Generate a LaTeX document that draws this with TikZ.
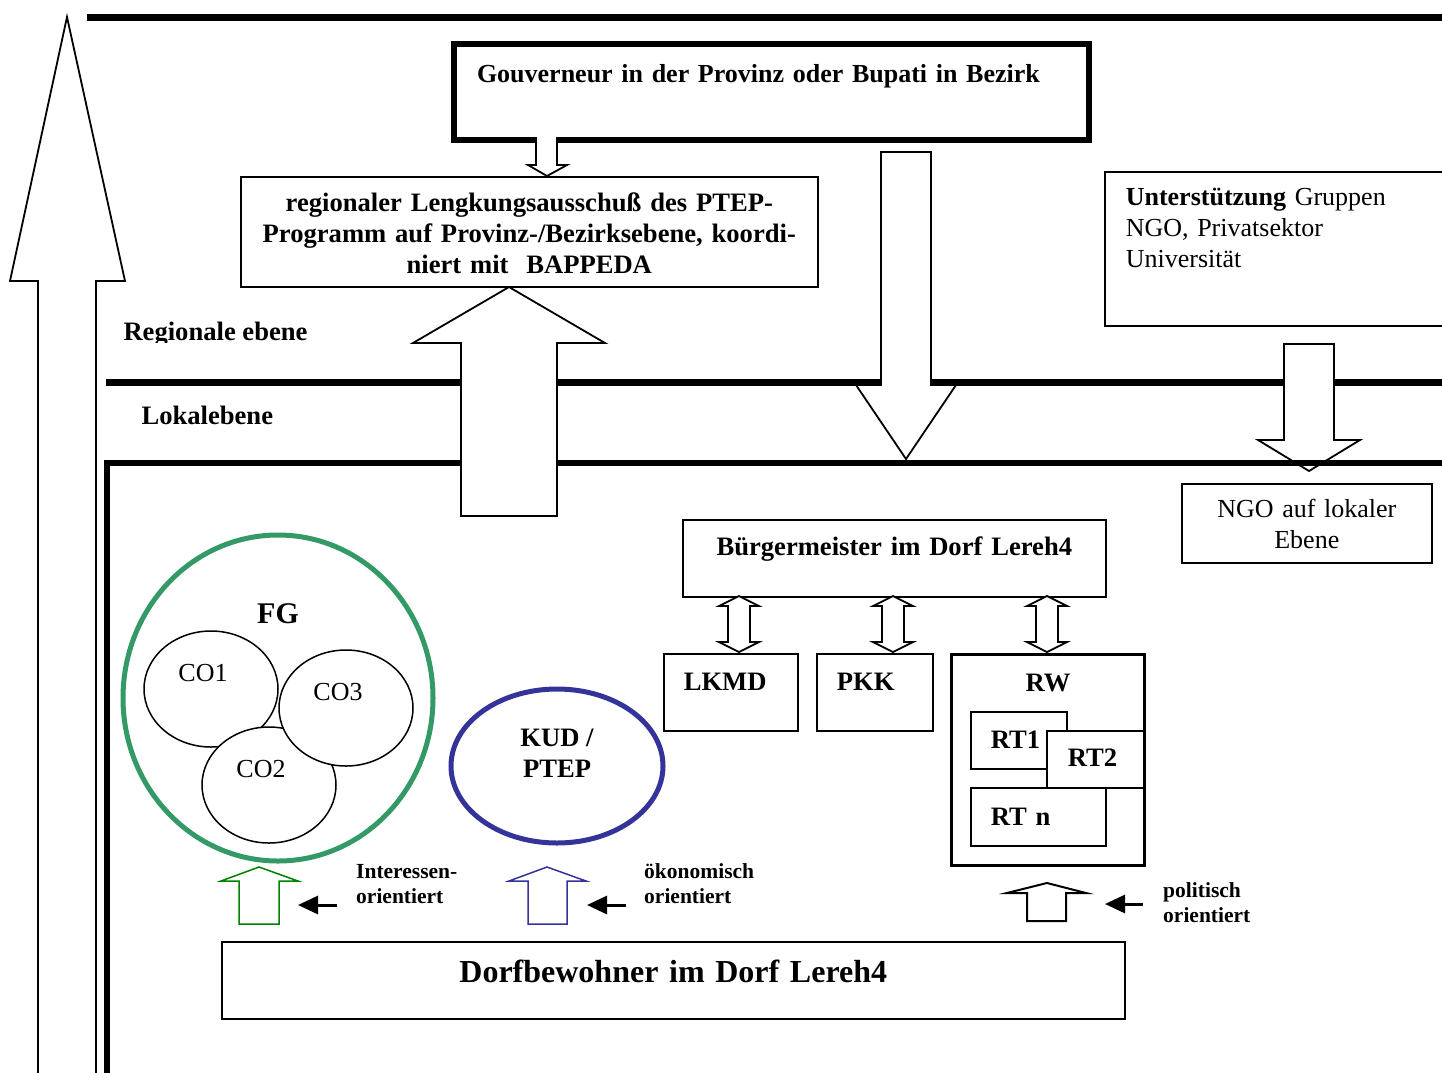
\documentclass[tikz,border=0pt]{standalone}
\usepackage{fontspec}
\setmainfont{Liberation Serif}
\usepackage{xcolor}
\usetikzlibrary{arrows.meta}
\usetikzlibrary{positioning,shapes.geometric}
\definecolor{fggreen}{RGB}{51,153,102}
\definecolor{kudblue}{RGB}{51,51,153}
\definecolor{arrgreen}{RGB}{0,128,0}
\tikzset{
    box/.style={
        draw,
        fill=white,
        line width=1.6pt,
        inner sep=0pt,
        anchor=north west
    },
    boldtext/.style={
        font=\fontsize{26.6pt}{31pt}\selectfont\bfseries
    },
    plaintext/.style={
        font=\fontsize{26pt}{31pt}\selectfont
    },
    smalltext/.style={
        font=\fontsize{21.5pt}{25pt}\selectfont\bfseries
    }
}

\begin{document}
\begin{tikzpicture}[x=1pt,y=-1pt]
  \tikzset{
    blockarrow/.style={
      draw,
      fill=white,
      line width=1.8pt,
      line join=miter
    },
    coarrow/.style={
      fill=white,
      line width=1.5pt
    },
    divider/.style={
      line width=7pt
    },
    pointer/.style={
      -{Triangle[length=20pt, width=18pt]},
      line width=3pt
    },
    cocircle/.style={
      ellipse,
      draw,
      fill=white,
      line width=1.5pt,
      minimum width=134pt,
      minimum height=116pt,
      inner sep=0pt,
      text height=2pt,
      text depth=18pt,
      plaintext
    },
    orient/.style={
      smalltext,
      anchor=north west,
      inner sep=0pt,
      align=left,
      text height=41pt
    }
  }
  \useasboundingbox (0,0) rectangle (1442,1072);

  % Levels
  \draw[blockarrow] (38,1080) -- (38,281) -- (10,281) -- (67,17) -- (125,281) -- (96,281) -- (96,1080);
  \draw[divider] (87,17) -- (1450,17);
  \draw[divider] (106,382) -- (1450,382);
  \begin{scope}
    \clip (110,290) rectangle (330,342);
    \node[boldtext, anchor=base west] (regional) at (120,340) {Regionale ebene};
  \end{scope}
  \node[boldtext, anchor=base west] (lokal) at (138,424) {Lokalebene};

  % Regional level
  \node[box, font=\fontsize{26pt}{31pt}\selectfont\bfseries, line width=6pt, text width=589pt, inner xsep=23pt, align=left,
        text height=38pt, text depth=58pt] (gouv) at (451,41)
        {Gouverneur in der Provinz oder Bupati in Bezirk};
  \node[box, boldtext, text width=577pt, align=center, text height=35pt, text depth=75pt] (regio) at (240,176)
        {regionaler Lengkungsausschuß des PTEP-\\Programm auf Provinz-/Bezirksebene, koordi-\\niert mit\ \ BAPPEDA};
  \node[box, plaintext, text width=318pt, inner xsep=21pt, align=left, text height=34pt, text depth=120pt] (support) at (1104,171)
        {\textbf{Unterstützung} Gruppen\\NGO, Privatsektor\\Universität};
  \draw[blockarrow] (536,137) -- (536,165) -- (528,165) -- (547,176) -- (567,165) -- (557,165) -- (557,137);
  \draw[blockarrow] (1284,344) -- (1284,440) -- (1258,440) -- (1309,471) -- (1360,440) -- (1334,440) -- (1334,344) -- cycle;

  % Local level
  \draw[line width=6pt, line join=miter] (107,1080) -- (107,463) -- (1450,463);
  \draw[blockarrow] (461,516) -- (461,343) -- (413,343) -- (509,287) -- (605,343) -- (557,343) -- (557,516) -- cycle;
  \draw[blockarrow] (881,152) -- (881,385) -- (856,385) -- (906,459) -- (956,385) -- (931,385) -- (931,152) -- cycle;
  \node[box, plaintext, text width=250pt, align=center, text height=34pt, text depth=45pt] (ngo) at (1181,483)
        {NGO auf lokaler\\Ebene};

  % Village
  \node[box, boldtext, text width=423pt, align=center, text height=36pt, text depth=41pt] (buerg) at (682,519)
        {Bürgermeister im Dorf Lereh4};
  \node[box, boldtext, text width=94pt, inner xsep=20pt, align=left, text height=37pt, text depth=40pt] (lkmd) at (663,653) {LKMD};
  \node[box, boldtext, text width=76pt, inner xsep=20pt, align=left, text height=37pt, text depth=40pt] (pkk) at (816,653) {PKK};
  \node[box, boldtext, line width=3pt, text width=193pt, align=center, text height=37pt, text depth=174pt] (rw) at (950,653) {RW};
  \node[box, boldtext, text width=56pt, inner xsep=20pt, align=left, text height=37pt, text depth=20pt] (rt1) at (970,711) {RT1};
  \node[box, boldtext, text width=55pt, inner xsep=21pt, align=left, text height=36pt, text depth=21pt] (rt2) at (1046,730) {RT2};
  \node[box, boldtext, text width=95pt, inner xsep=20pt, align=left, text height=38pt, text depth=20pt] (rtn) at (970,787) {RT n};
  \foreach \cx in {739,893,1047} {
    \draw[blockarrow] (\cx,596) -- (\cx+20,606) -- (\cx+11,606) -- (\cx+11,642) -- (\cx+20,642) -- (\cx,652)
      -- (\cx-20,642) -- (\cx-11,642) -- (\cx-11,606) -- (\cx-20,606) -- cycle;
  }

  % Groups
  \node[ellipse, draw=fggreen, line width=5pt, minimum width=310pt, minimum height=326pt, inner sep=0pt] (fg) at (278,698) {};
  \node[font=\fontsize{30pt}{36pt}\selectfont\bfseries, anchor=base] (fglabel) at (278,623) {FG};
  \node[cocircle] (co1) at (211,689) {CO1\hspace*{16pt}};
  \node[cocircle] (co2) at (269,785) {CO2\hspace*{16pt}};
  \node[cocircle] (co3) at (346,708) {CO3\hspace*{16pt}};
  \node[ellipse, draw=kudblue, line width=5pt, minimum width=212pt, minimum height=154pt, inner sep=0pt,
        boldtext, align=center, text height=40pt, text depth=18pt] (kud) at (557,766) {KUD /\\PTEP};

  % Orientation
  \draw[coarrow, draw=arrgreen] (239,924) -- (239,881) -- (221,881) -- (259,867) -- (298,881) -- (279,881) -- (279,924) -- cycle;
  \draw[coarrow, draw=kudblue] (528,924) -- (528,881) -- (509,881) -- (547,867) -- (586,881) -- (567,881) -- (567,924) -- cycle;
  \draw[coarrow, draw=black, line width=2pt] (1027,921) -- (1027,893) -- (1007,893) -- (1047,883) -- (1086,893) -- (1066,893) -- (1066,921) -- cycle;
  \coordinate (ptr1s) at (337,905);
  \coordinate (ptr1e) at (298,905);
  \coordinate (ptr2s) at (626,905);
  \coordinate (ptr2e) at (587,905);
  \coordinate (ptr3s) at (1143,904);
  \coordinate (ptr3e) at (1105,904);
  \draw[pointer] (ptr1s) -- (ptr1e);
  \draw[pointer] (ptr2s) -- (ptr2e);
  \draw[pointer] (ptr3s) -- (ptr3e);
  \node[orient] (interest) at (356,862) {Interessen-\\orientiert};
  \node[orient] (econ) at (644,862) {ökonomisch\\orientiert};
  \node[orient] (polit) at (1163,881) {politisch\\orientiert};

  % Villagers
  \node[box, font=\fontsize{32pt}{38pt}\selectfont\bfseries, text width=903pt, align=center, text height=41pt, text depth=36pt] (dorf) at (221,941)
        {Dorfbewohner im Dorf Lereh4};
\end{tikzpicture}
\end{document}
